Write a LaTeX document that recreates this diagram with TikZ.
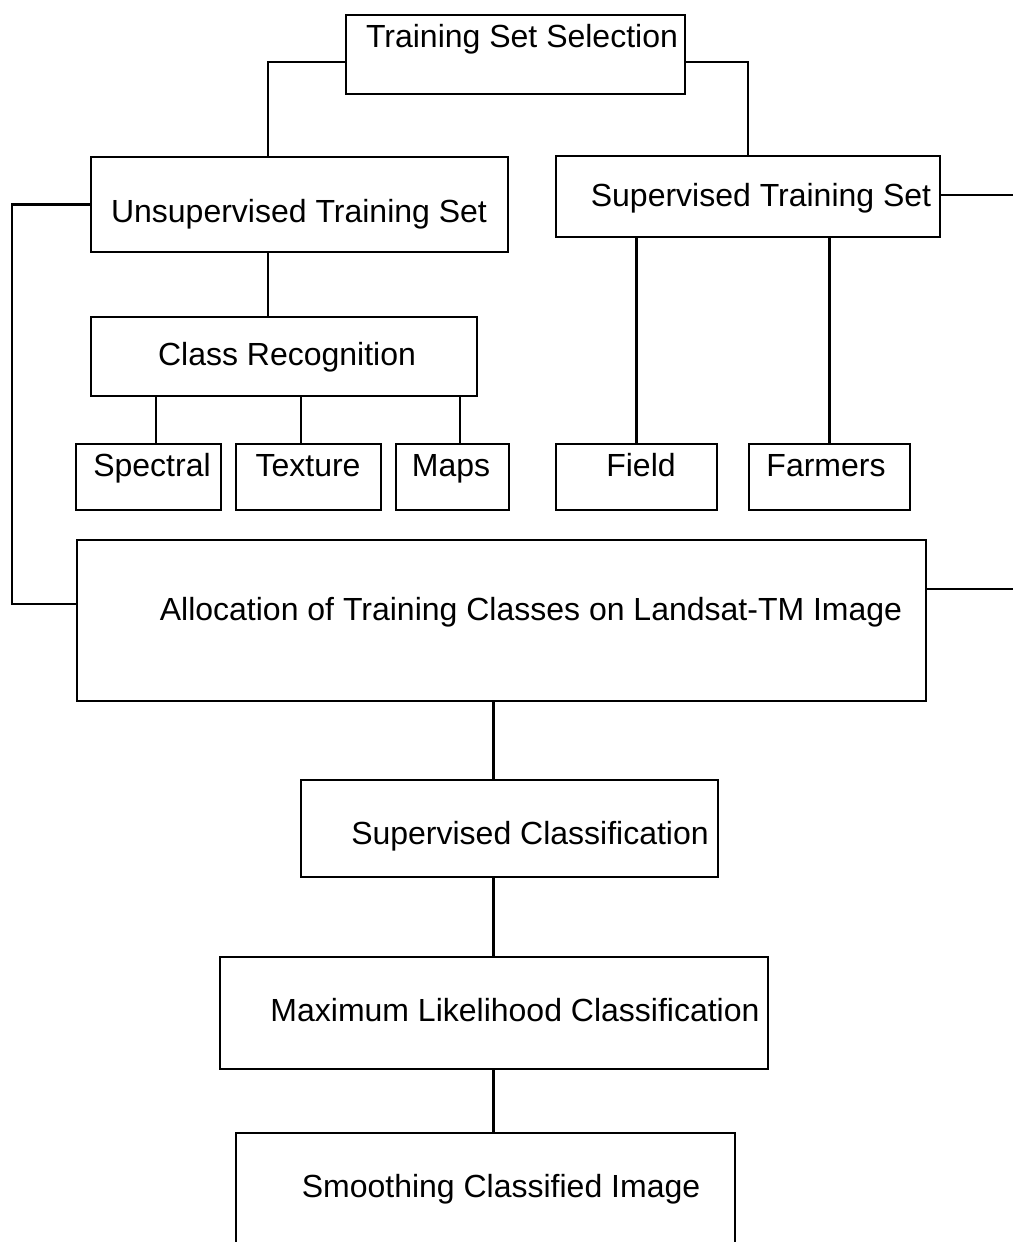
\documentclass[tikz,border=0pt]{standalone}
\usepackage{fontspec}
\setmainfont{Liberation Sans}
\usetikzlibrary{calc}
\begin{document}
\begin{tikzpicture}[x=1pt,y=-1pt,
  box/.style={draw=black,line width=2.4pt,rectangle,inner sep=0pt,outer sep=0pt},
  txt/.style={inner sep=0pt,text height=23pt,text depth=0pt,font=\fontsize{32}{38}\selectfont},
  conn/.style={draw=black,line width=2.1pt}]
\useasboundingbox[fill=white] (0,0) rectangle (1013,1242);
% boxes
\node[box,minimum width=339pt,minimum height=79pt] (tss) at (515.5,54.5) {};
\node[box,minimum width=417pt,minimum height=95pt] (uts) at (299.5,204.5) {};
\node[box,minimum width=384pt,minimum height=81pt] (sts) at (748,196.5) {};
\node[box,minimum width=386pt,minimum height=79pt] (cr) at (284,356.5) {};
\node[box,minimum width=145pt,minimum height=66pt] (spec) at (148.5,477) {};
\node[box,minimum width=145pt,minimum height=66pt] (tex) at (308.5,477) {};
\node[box,minimum width=113pt,minimum height=66pt] (maps) at (452.5,477) {};
\node[box,minimum width=161pt,minimum height=66pt] (field) at (636.5,477) {};
\node[box,minimum width=161pt,minimum height=66pt] (farm) at (829.5,477) {};
\node[box,minimum width=849pt,minimum height=161pt] (alloc) at (501.5,620.5) {};
\node[box,minimum width=417pt,minimum height=97pt] (sc) at (509.5,828.5) {};
\node[box,minimum width=548pt,minimum height=112pt] (ml) at (494,1013) {};
\node[box,minimum width=499pt,minimum height=129pt] (sm) at (485.5,1197.5) {};
% texts
\node[txt] (t1) at (522,36) {Training Set Selection};
\node[txt] (t2) at (299,211) {Unsupervised Training Set};
\node[txt] (t3) at (761,195) {Supervised Training Set};
\node[txt] (t4) at (287,354) {Class Recognition};
\node[txt] (t5) at (152,465) {Spectral};
\node[txt] (t6) at (308,465) {Texture};
\node[txt] (t7) at (451,465) {Maps};
\node[txt] (t8) at (641,465) {Field};
\node[txt] (t9) at (826,465) {Farmers};
\node[txt] (t10) at (531,609) {Allocation of Training Classes on Landsat-TM Image};
\node[txt] (t11) at (530,833) {Supervised Classification};
\node[txt] (t12) at (515,1010) {Maximum Likelihood Classification};
\node[txt] (t13) at (501,1186) {Smoothing Classified Image};
% free ends
\coordinate (re1) at (1013,195);
\coordinate (re2) at (1013,589);
% connectors
\draw[conn] ([yshift=-7.5pt]tss.west) -| ([xshift=-31.5pt]uts.north);
\draw[conn] ([yshift=-7.5pt]tss.east) -| (sts.north);
\draw[conn] (uts.west) -- ++(-79,0) |- ([yshift=16.5pt]alloc.west);
\draw[conn] ([yshift=1.5pt]sts.east) -- (re1);
\draw[conn] ([yshift=31.5pt]alloc.east) -- (re2);
\draw[conn] ([xshift=-31.5pt]uts.south) -- ([xshift=-31.5pt]uts.south |- cr.north);
\draw[conn] ([xshift=7.5pt]spec.north) -- ([xshift=7.5pt]spec.north |- cr.south);
\draw[conn] ([xshift=-7.5pt]tex.north) -- ([xshift=-7.5pt]tex.north |- cr.south);
\draw[conn] ([xshift=7.5pt]maps.north) -- ([xshift=7.5pt]maps.north |- cr.south);
\draw[conn] (field.north) -- (field.north |- sts.south);
\draw[conn] (farm.north) -- (farm.north |- sts.south);
\draw[conn] ([xshift=-16pt]sc.north) -- ([xshift=-16pt]sc.north |- alloc.south);
\draw[conn] ([xshift=-16pt]sc.south) -- ([xshift=-16pt]sc.south |- ml.north);
\draw[conn] ([xshift=-0.5pt]ml.south) -- ([xshift=-0.5pt]ml.south |- sm.north);
\end{tikzpicture}
\end{document}
